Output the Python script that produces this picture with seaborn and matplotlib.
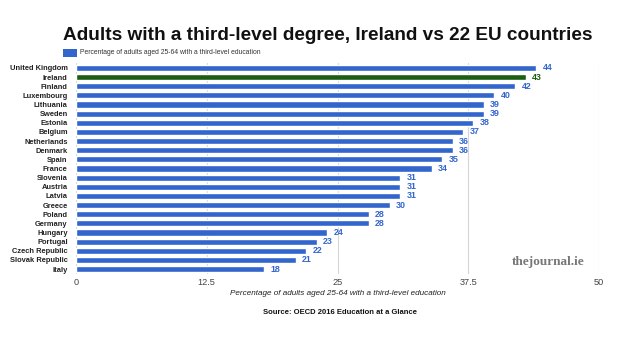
import matplotlib
matplotlib.use("Agg")
import matplotlib.pyplot as plt
import seaborn as sns
import pandas as pd
from matplotlib.patches import Rectangle

countries = ["United Kingdom", "Ireland", "Finland", "Luxembourg", "Lithuania", "Sweden",
             "Estonia", "Belgium", "Netherlands", "Denmark", "Spain", "France", "Slovenia",
             "Austria", "Latvia", "Greece", "Poland", "Germany", "Hungary", "Portugal",
             "Czech Republic", "Slovak Republic", "Italy"]
values = [44, 43, 42, 40, 39, 39, 38, 37, 36, 36, 35, 34, 31, 31, 31, 30, 28, 28, 24, 23, 22, 21, 18]
xticks = [0, 12.5, 25, 37.5, 50]
xtick_labels = ["0", "12.5", "25", "37.5", "50"]

BLUE = "#3366CC"
GREEN = "#1B5E12"

df = pd.DataFrame({"country": countries, "value": values})
df["group"] = ["Ireland" if c == "Ireland" else "Other" for c in countries]

sns.set_theme(style="white")
plt.rcParams["font.family"] = ["Liberation Sans", "DejaVu Sans"]

fig = plt.figure(figsize=(6.3, 3.37), dpi=100)
ax = fig.add_axes([76/630, 1 - 273.6/337, (599-76)/630, (273.6-63.4)/337])

sns.barplot(data=df, x="value", y="country", hue="group",
            palette={"Other": BLUE, "Ireland": GREEN}, dodge=False,
            width=0.68, legend=False, ax=ax, orient="h", saturation=1)

ax.set_xlim(0, 50)
ax.set_ylim(len(countries) - 0.5, -0.5)
ax.set_xticks(xticks)
ax.set_xticklabels(xtick_labels, fontsize=6.6, color="#444444")
ax.tick_params(axis="x", length=0, pad=3)
ax.tick_params(axis="y", length=0, pad=6)
for lbl in ax.get_yticklabels():
    lbl.set_fontsize(5.4)
    lbl.set_fontweight("bold")
    lbl.set_color("#222222")
ax.grid(axis="x", color="#d6d6d6", linewidth=0.8)
ax.set_axisbelow(True)
for s in ax.spines.values():
    s.set_visible(False)
ax.set_ylabel("")
ax.set_xlabel("Percentage of adults aged 25-64 with a third-level education",
              fontsize=5.9, style="italic", color="#222222", labelpad=2)

for i, (c, v) in enumerate(zip(countries, values)):
    ax.text(v + 0.6, i, str(v), va="center", ha="left", fontsize=6.4, fontweight="bold",
            color=GREEN if c == "Ireland" else BLUE)

fig.text(63/630, 1 - 35/337, "Adults with a third-level degree, Ireland vs 22 EU countries",
         fontsize=13.7, fontweight="bold", color="#111111", va="center", ha="left")
fig.patches.append(Rectangle((63/630, 1 - 57/337), 14/630, 8/337, transform=fig.transFigure,
                             facecolor=BLUE, edgecolor="none"))
fig.text(80/630, 1 - 53/337, "Percentage of adults aged 25-64 with a third-level education",
         fontsize=4.85, color="#333333", va="center", ha="left")
fig.text(548/630, 1 - 262/337, "thejournal.ie", fontsize=9.5, fontweight="bold",
         family=["Liberation Serif", "DejaVu Serif"], color="#777777", va="center", ha="center")
fig.text(340/630, 1 - 312/337, "Source: OECD 2016 Education at a Glance", fontsize=5.5,
         fontweight="bold", color="#111111", va="center", ha="center")

fig.savefig("out.png", dpi=100)
